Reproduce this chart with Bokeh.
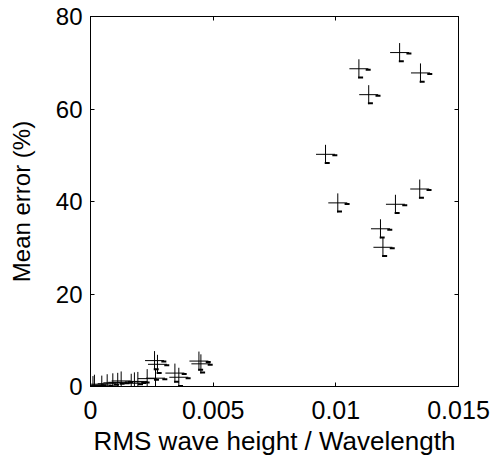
from bokeh.plotting import figure
from bokeh.models import Range1d, LinearAxis, FixedTicker, ColumnDataSource
from bokeh.embed import file_html
from bokeh.resources import INLINE

# data: RMS wave height / wavelength vs mean error (%)
ratio = [0.0, 0.0001, 0.00016, 0.00046, 0.00068, 0.00091, 0.00111, 0.00125,
         0.00166, 0.00179, 0.00193, 0.00231, 0.00261, 0.00273, 0.00265,
         0.00344, 0.0036, 0.00442, 0.0045,
         0.00958, 0.01008, 0.01094, 0.01134, 0.01182, 0.01192, 0.01243,
         0.01260, 0.01342, 0.01345]
error = [0.0, 0.2, 0.5, 0.3, 0.6, 0.8, 0.9, 1.2,
         0.7, 1.0, 1.1, 1.7, 5.6, 4.8, 1.8,
         2.9, 2.0, 5.5, 4.9,
         50.2, 39.7, 68.7, 63.1, 34.1, 30.1, 39.4,
         72.2, 42.7, 67.8]

x_ticks = [0, 0.005, 0.01, 0.015]
x_tick_labels = ["0", "0.005", "0.01", "0.015"]
y_ticks = [0, 20, 40, 60, 80]

X_MAX = 0.015
Y_MAX = 80.0
FRAME_W = 368
FRAME_H = 370
px_x = X_MAX / FRAME_W
px_y = Y_MAX / FRAME_H

FONT = "Liberation Sans"

p = figure(width=491, height=459, output_backend="svg", toolbar_location=None,
           x_range=Range1d(0, X_MAX), y_range=Range1d(0, Y_MAX),
           min_border_left=90, min_border_right=33, min_border_top=16,
           min_border_bottom=73)
p.grid.visible = False
p.outline_line_color = "black"
p.outline_line_width = 1
p.background_fill_color = "white"
p.border_fill_color = "white"

for ax in (p.xaxis[0], p.yaxis[0]):
    ax.major_tick_in = 4
    ax.major_tick_out = 0
    ax.minor_tick_line_color = None
    ax.axis_line_color = "black"
    ax.major_tick_line_color = "black"
    ax.major_label_text_font = FONT
    ax.major_label_text_color = "black"
    ax.axis_label_text_font = FONT
    ax.axis_label_text_font_style = "normal"
    ax.axis_label_text_color = "black"

p.xaxis[0].ticker = FixedTicker(ticks=x_ticks)
p.xaxis[0].major_label_overrides = {t: l for t, l in zip(x_ticks, x_tick_labels)}
p.xaxis[0].axis_label = "RMS wave height / Wavelength"
p.xaxis[0].major_label_text_font_size = "25px"
p.xaxis[0].axis_label_text_font_size = "26px"
p.xaxis[0].major_label_standoff = 14
p.xaxis[0].axis_label_standoff = 4
p.yaxis[0].ticker = FixedTicker(ticks=y_ticks)
p.yaxis[0].axis_label = "Mean error (%)"
p.yaxis[0].major_label_text_font_size = "24px"
p.yaxis[0].axis_label_text_font_size = "24px"
p.yaxis[0].major_label_standoff = 8
p.yaxis[0].axis_label_standoff = 18

top = LinearAxis(ticker=FixedTicker(ticks=x_ticks),
                 major_label_overrides={t: "" for t in x_ticks},
                 major_tick_in=4, major_tick_out=0, minor_tick_line_color=None,
                 major_label_standoff=0)
right = LinearAxis(ticker=FixedTicker(ticks=y_ticks),
                   major_label_overrides={t: "" for t in y_ticks},
                   major_tick_in=4, major_tick_out=0, minor_tick_line_color=None,
                   major_label_standoff=0)
p.add_layout(top, "above")
p.add_layout(right, "right")

src = ColumnDataSource(dict(
    x=ratio, y=error,
    xr=[v + 9.3 * px_x for v in ratio], yr=[v - 1.0 * px_y for v in error],
    xb=[v + 1.7 * px_x for v in ratio], yb=[v - 8.7 * px_y for v in error],
))
p.scatter("x", "y", source=src, marker="cross", size=19, line_color="black",
          line_width=1)
p.scatter("xr", "yr", source=src, marker="dash", size=5, line_color="black",
          line_width=2)
p.scatter("xb", "yb", source=src, marker="dash", size=5, line_color="black",
          line_width=2)

open("out.html", "w").write(file_html(p, INLINE))
